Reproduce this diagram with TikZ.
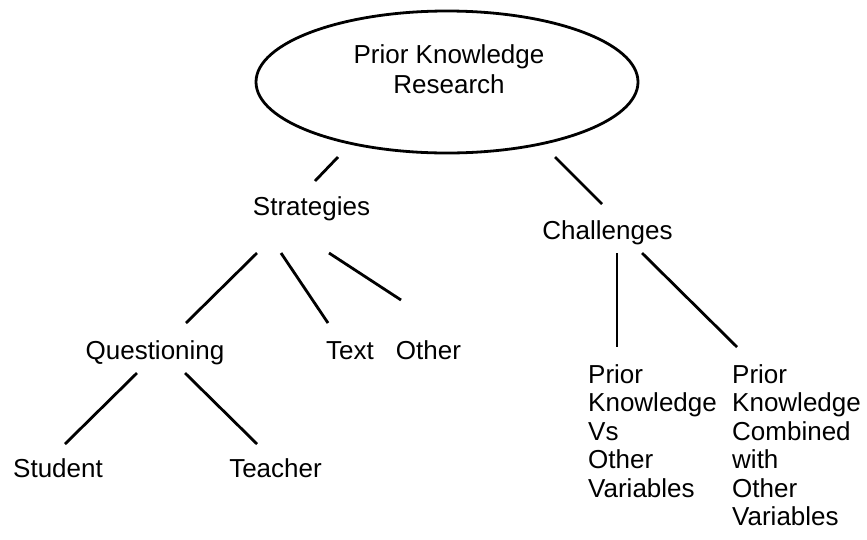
\documentclass[tikz,border=0pt]{standalone}
\usepackage{fontspec}
\setmainfont{Liberation Sans}
\usetikzlibrary{shapes.geometric, calc}

\tikzset{
    word/.style={inner sep=0pt, anchor=base},
    stack/.style={inner sep=0pt, anchor=base west, align=left},
    branch/.style={line width=2.8pt}
}

\begin{document}
\begin{tikzpicture}[x=1pt, y=-1pt, font=\fontsize{26}{28.5}\selectfont]
    \useasboundingbox (0,0) rectangle (867,539);

    % Root
    \node[draw, ellipse, line width=2.8pt, minimum width=382pt, minimum height=142pt, inner sep=0pt] (root) at (447,82) {};
    \node[inner sep=0pt, align=center] (rootlabel) at (449,69) {Prior Knowledge\\[1.5pt]Research};

    % Second level
    \node[word] (strat) at (311.5,215) {Strategies};
    \node[word] (chall) at (607.5,239) {Challenges};

    % Strategies children
    \node[word] (quest) at (155,359) {Questioning};
    \node[word] (textnode) at (350,359) {Text};
    \node[word] (other) at (428.5,359) {Other};
    \node[word] (student) at (58,477) {Student};
    \node[word] (teacher) at (275.5,477) {Teacher};

    % Challenges children (base = last line)
    \node[stack] (versus) at (588,497) {Prior\\Knowledge\\Vs\\Other\\Variables};
    \node[stack] (combined) at (732,525.5) {Prior\\Knowledge\\Combined\\with\\Other\\Variables};

    % Branches
    \draw[branch] ($(root.center)+(-109,75)$) -- ($(strat.base)+(3.5,-34)$);
    \draw[branch] ($(root.center)+(108,75)$) -- ($(chall.base)+(-5.5,-35)$);
    \draw[branch] ($(strat.base)+(-54.5,38)$) -- ($(quest.base)+(31,-36)$);
    \draw[branch] ($(strat.base)+(-30.5,38)$) -- ($(textnode.base)+(-22,-36)$);
    \draw[branch] ($(strat.base)+(17.5,38)$) -- ($(other.base)+(-27.5,-59)$);
    \draw[branch] ($(quest.base)+(-18,14)$) -- ($(student.base)+(7,-33)$);
    \draw[branch] ($(quest.base)+(30,14)$) -- ($(teacher.base)+(-18.5,-33)$);
    \draw[branch] ($(chall.base)+(9.5,14)$) -- ($(versus.base west)+(29,-150)$);
    \draw[branch] ($(chall.base)+(34.5,14)$) -- ($(combined.base west)+(5,-178.5)$);
\end{tikzpicture}
\end{document}
